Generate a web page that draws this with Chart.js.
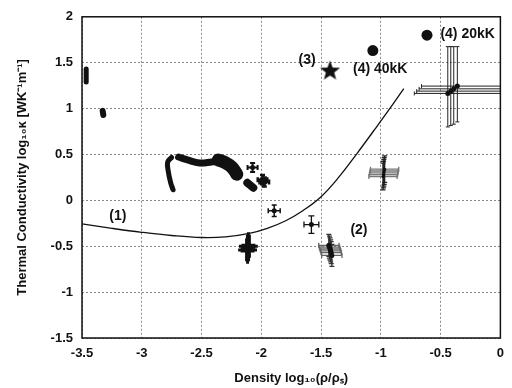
<!DOCTYPE html>
<html lang="en">
<head>
<meta charset="UTF-8">
<title>Thermal conductivity vs density</title>
<script src="https://cdn.jsdelivr.net/npm/chart.js"></script>
<style>
  body { margin: 0; background: #fff; }
  #wrap { width: 512px; height: 388px; }
</style>
</head>
<body>
<div id="wrap"><canvas id="kappaChart"></canvas></div>
<script>
// axis ticks
const xTicks = [-3.5, -3, -2.5, -2, -1.5, -1, -0.5, 0];
const xTickLabels = ['-3.5', '-3', '-2.5', '-2', '-1.5', '-1', '-0.5', '0'];
const yTicks = [-1.5, -1, -0.5, 0, 0.5, 1, 1.5, 2];
const yTickLabels = ['-1.5', '-1', '-0.5', '0', '0.5', '1', '1.5', '2'];

// model curve (1)
const curveX = [-3.5, -3.25, -3, -2.75, -2.5, -2.3, -2.1, -1.95, -1.8, -1.65, -1.5, -1.35, -1.2, -1.05, -0.9, -0.808];
const curveY = [-0.257, -0.305, -0.348, -0.383, -0.405, -0.398, -0.36, -0.305, -0.225, -0.11, 0.04, 0.255, 0.51, 0.775, 1.045, 1.217];

// dense measurement strands (drawn as thick strokes)
const blobAX = [-3.465, -3.465];
const blobAY = [1.43, 1.29];
const blobBX = [-3.327, -3.322];
const blobBY = [0.975, 0.93];
const blobCX = [-2.75, -2.783, -2.779, -2.758, -2.738];
const blobCY = [0.467, 0.418, 0.321, 0.191, 0.115];
const blobDX = [-2.692, -2.617, -2.517, -2.417, -2.36];
const blobDY = [0.472, 0.44, 0.407, 0.418, 0.43];
const blobEX = [-2.36, -2.3, -2.245, -2.205];
const blobEY = [0.44, 0.41, 0.36, 0.285];
const blobFX = [-2.117, -2.067];
const blobFY = [0.191, 0.137];

// points with error bars
const crossAX = [-2.073];
const crossAY = [0.357];
const crossAXErr = [0.042];
const crossAYErr = [0.049];
const crossBX = [-1.99, -1.975];
const crossBY = [0.225, 0.2];
const crossBXErr = [0.04, 0.04];
const crossBYErr = [0.05, 0.05];
const crossCX = [-1.892];
const crossCY = [-0.113];
const crossCXErr = [0.05];
const crossCYErr = [0.062];
const crossDX = [-1.581];
const crossDY = [-0.264];
const crossDXErr = [0.062];
const crossDYErr = [0.095];
const crossEX = [-2.108, -2.115];
const crossEY = [-0.5, -0.54];
const crossEXErr = [0.058, 0.058];
const crossEYErr = [0.125, 0.125];
const group2X = [-1.435, -1.43, -1.425, -1.42, -1.415, -1.41];
const group2Y = [-0.49, -0.51, -0.53, -0.55, -0.57, -0.6];
const group2XErr = [0.085, 0.085, 0.085, 0.085, 0.085, 0.085];
const group2YErr = [0.12, 0.12, 0.12, 0.12, 0.12, 0.12];
const group3X = [-0.968, -0.972, -0.975, -0.978, -0.982];
const group3Y = [0.34, 0.32, 0.3, 0.28, 0.26];
const group3XErr = [0.118, 0.118, 0.118, 0.118, 0.118];
const group3YErr = [0.145, 0.145, 0.145, 0.145, 0.145];
const group4X = [-0.44, -0.415, -0.39, -0.36];
const group4Y = [1.165, 1.19, 1.215, 1.245];
const group4XLo = [-0.72, -0.7, -0.68, -0.66];
const group4XHi = [0.05, 0.05, 0.05, 0.05];
const group4YLo = [0.80, 0.815, 0.83, 0.855];
const group4YHi = [1.675, 1.675, 1.675, 1.675];

// single markers
const starX = [-1.425];
const starY = [1.42];
const circleX = [-1.067, -0.614];
const circleY = [1.632, 1.80];

// text labels, in data units
const noteText = ['(1)', '(2)', '(3)', '(4) 40kK', '(4) 20kK'];
const noteX = [-3.2, -1.183, -1.617, -1.233, -0.502];
const noteY = [-0.167, -0.329, 1.523, 1.426, 1.816];
const noteAlign = ['center', 'center', 'center', 'left', 'left'];

const FONT = "'Liberation Sans', Arial, Helvetica, sans-serif";

function pts(xs, ys) {
  return xs.map((v, i) => ({ x: v, y: ys[i] }));
}
function errPts(xs, ys, xLo, xHi, yLo, yHi) {
  return xs.map((v, i) => ({ x: v, y: ys[i], xLo: xLo[i], xHi: xHi[i], yLo: yLo[i], yHi: yHi[i] }));
}
function symErr(xs, ys, xe, ye) {
  return errPts(xs, ys,
    xs.map((v, i) => v - xe[i]), xs.map((v, i) => v + xe[i]),
    ys.map((v, i) => v - ye[i]), ys.map((v, i) => v + ye[i]));
}

function strand(data, width) {
  return {
    data: data, showLine: true, borderColor: '#111', borderWidth: width,
    borderCapStyle: 'round', borderJoinStyle: 'round', tension: 0.4,
    pointRadius: 0, pointHoverRadius: 0
  };
}
function errSet(data, colorX, colorY, width, cap, dot) {
  return {
    data: data, errorBars: true, errorColorX: colorX, errorColorY: colorY, errorWidth: width, errorCap: cap,
    pointRadius: dot, backgroundColor: '#111', borderColor: '#111', pointBorderWidth: 0
  };
}

function makeStar(r) {
  const c = document.createElement('canvas');
  c.width = c.height = Math.ceil(r * 2 + 2);
  const g = c.getContext('2d');
  const cx = c.width / 2, cy = c.height / 2 + r * 0.1;
  g.beginPath();
  for (let i = 0; i < 10; i++) {
    const rad = i % 2 === 0 ? r : r * 0.42;
    const a = -Math.PI / 2 + i * Math.PI / 5;
    g.lineTo(cx + rad * Math.cos(a), cy + rad * Math.sin(a));
  }
  g.closePath();
  g.fillStyle = '#111';
  g.fill();
  return c;
}

// draws x / y error bars for datasets flagged errorBars
const errorBarPlugin = {
  id: 'errorBars',
  beforeDatasetsDraw(chart) {
    const { ctx, chartArea, scales: { x, y } } = chart;
    ctx.save();
    ctx.beginPath();
    ctx.rect(chartArea.left, chartArea.top, chartArea.right - chartArea.left, chartArea.bottom - chartArea.top);
    ctx.clip();
    chart.data.datasets.forEach(ds => {
      if (!ds.errorBars) return;
      ctx.lineWidth = ds.errorWidth;
      const cap = ds.errorCap;
      ds.data.forEach(p => {
        const py = y.getPixelForValue(p.y);
        const x0 = x.getPixelForValue(p.xLo), x1 = x.getPixelForValue(p.xHi);
        ctx.strokeStyle = ds.errorColorX;
        ctx.beginPath();
        ctx.moveTo(x0, py); ctx.lineTo(x1, py);
        ctx.moveTo(x0, py - cap); ctx.lineTo(x0, py + cap);
        ctx.moveTo(x1, py - cap); ctx.lineTo(x1, py + cap);
        ctx.stroke();
      });
      ds.data.forEach(p => {
        const px = x.getPixelForValue(p.x);
        const y0 = y.getPixelForValue(p.yLo), y1 = y.getPixelForValue(p.yHi);
        ctx.strokeStyle = ds.errorColorY;
        ctx.beginPath();
        ctx.moveTo(px, y0); ctx.lineTo(px, y1);
        ctx.moveTo(px - cap, y0); ctx.lineTo(px + cap, y0);
        ctx.moveTo(px - cap, y1); ctx.lineTo(px + cap, y1);
        ctx.stroke();
      });
    });
    ctx.restore();
  },
  afterDraw(chart) {
    const { ctx, chartArea: a, scales: { x, y } } = chart;
    ctx.save();
    ctx.strokeStyle = '#111';
    ctx.lineWidth = 1.5;
    ctx.strokeRect(a.left, a.top, a.right - a.left, a.bottom - a.top);
    ctx.fillStyle = '#111';
    ctx.font = 'bold 14px ' + FONT;
    ctx.textBaseline = 'middle';
    noteText.forEach((t, i) => {
      ctx.textAlign = noteAlign[i];
      ctx.fillText(t, x.getPixelForValue(noteX[i]), y.getPixelForValue(noteY[i]));
    });
    ctx.restore();
  }
};

const ctx = document.getElementById('kappaChart').getContext('2d');
new Chart(ctx, {
  type: 'scatter',
  data: {
    datasets: [
      {
        data: pts(curveX, curveY), showLine: true, borderColor: '#111', borderWidth: 1.3,
        tension: 0.4, pointRadius: 0, pointHoverRadius: 0
      },
      strand(pts(blobAX, blobAY), 5),
      strand(pts(blobBX, blobBY), 6),
      strand(pts(blobCX, blobCY), 5),
      strand(pts(blobDX, blobDY), 7),
      strand(pts(blobEX, blobEY), 13),
      strand(pts(blobFX, blobFY), 8),
      errSet(symErr(crossAX, crossAY, crossAXErr, crossAYErr), '#111', '#111', 2, 2.5, 2.5),
      errSet(symErr(crossBX, crossBY, crossBXErr, crossBYErr), '#111', '#111', 2.5, 2.5, 3),
      errSet(symErr(crossCX, crossCY, crossCXErr, crossCYErr), '#111', '#111', 1.5, 2.5, 2.5),
      errSet(symErr(crossDX, crossDY, crossDXErr, crossDYErr), '#111', '#111', 1.3, 3, 2.5),
      errSet(symErr(crossEX, crossEY, crossEXErr, crossEYErr), '#111', '#111', 5, 1.5, 3),
      errSet(symErr(group2X, group2Y, group2XErr, group2YErr), '#666', '#333', 1.3, 2.5, 2.5),
      errSet(symErr(group3X, group3Y, group3XErr, group3YErr), '#777', '#222', 1.3, 2.5, 1.5),
      errSet(errPts(group4X, group4Y, group4XLo, group4XHi, group4YLo, group4YHi), '#222', '#222', 1, 2, 2.5),
      {
        data: pts(starX, starY), pointStyle: makeStar(10.5), pointRadius: 10
      },
      {
        data: pts(circleX, circleY), pointStyle: 'circle', pointRadius: 5.5,
        backgroundColor: '#111', borderColor: '#111', borderWidth: 0
      }
    ]
  },
  options: {
    responsive: true,
    maintainAspectRatio: false,
    animation: false,
    events: [],
    layout: { padding: { top: 15, right: 10, left: 0, bottom: 0 } },
    plugins: { legend: { display: false }, tooltip: { enabled: false } },
    scales: {
      x: {
        type: 'linear', min: -3.5, max: 0,
        afterBuildTicks: s => { s.ticks = xTicks.map(v => ({ value: v })); },
        afterFit: s => { s.height = 50; },
        ticks: {
          color: '#111', padding: 8, maxRotation: 0, autoSkip: false,
          font: { family: FONT, size: 13, weight: 'bold' },
          callback: (v, i) => xTickLabels[i]
        },
        grid: { color: '#888', lineWidth: 1, drawTicks: false },
        border: { display: false, dash: [2, 2] },
        title: {
          display: true, text: 'Density log\u2081\u2080(\u03c1/\u03c1\u209b)', color: '#111',
          font: { family: FONT, size: 13, weight: 'bold' },
          padding: { top: 0, bottom: 2 }
        }
      },
      y: {
        type: 'linear', min: -1.5, max: 2,
        afterBuildTicks: s => { s.ticks = yTicks.map(v => ({ value: v })); },
        afterFit: s => { s.width = 82; },
        ticks: {
          color: '#111', padding: 9, autoSkip: false,
          font: { family: FONT, size: 13, weight: 'bold' },
          callback: (v, i) => yTickLabels[i]
        },
        grid: { color: '#888', lineWidth: 1, drawTicks: false },
        border: { display: false, dash: [2, 2] },
        title: {
          display: true, text: 'Thermal Conductivity log\u2081\u2080\u03ba [WK\u207b\u00b9m\u207b\u00b9]', color: '#111',
          font: { family: FONT, size: 13, weight: 'bold' },
          padding: { top: 15, bottom: 0 }
        }
      }
    }
  },
  plugins: [errorBarPlugin]
});
</script>
</body>
</html>
